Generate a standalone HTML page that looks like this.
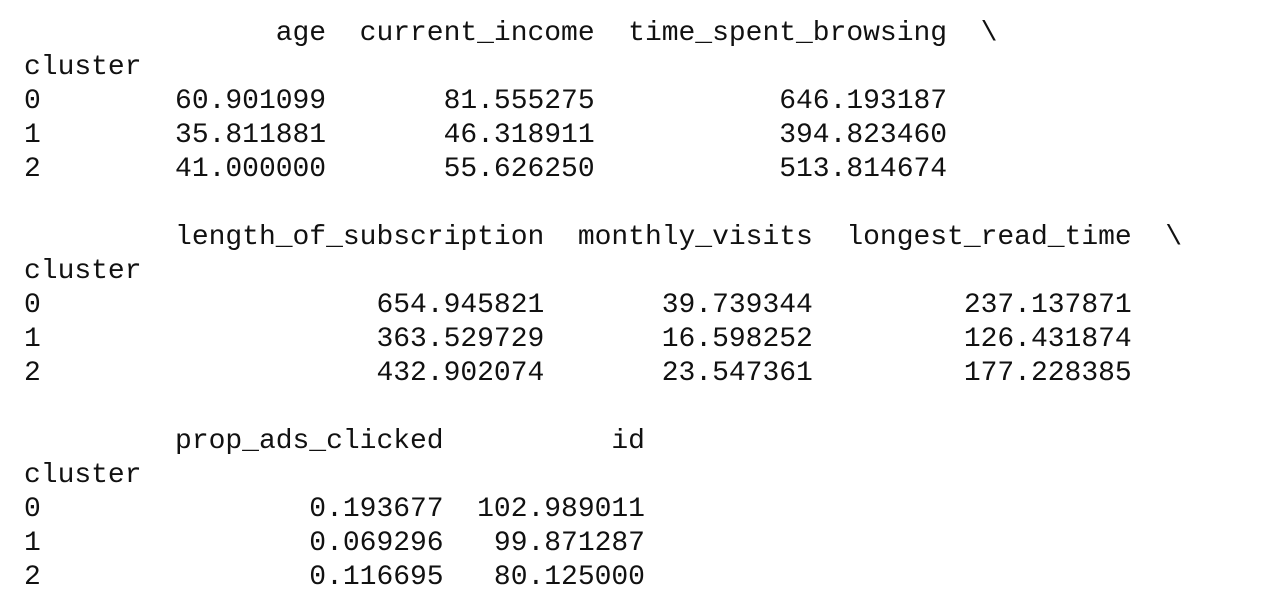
<!DOCTYPE html>
<html><head><meta charset="utf-8"><style>
html,body{margin:0;padding:0;background:#fff;width:1278px;height:596px;overflow:hidden}
pre{position:absolute;left:24px;top:17px;margin:0;font-family:"Liberation Mono","DejaVu Sans Mono",monospace;font-size:28px;line-height:34px;color:#111;letter-spacing:-0.02px}
</style></head><body>
<pre><span>               age  current_income  time_spent_browsing  \
cluster
0        60.901099       81.555275           646.193187
1        35.811881       46.318911           394.823460
2        41.000000       55.626250           513.814674</span>

<span>         length_of_subscription  monthly_visits  longest_read_time  \
cluster
0                    654.945821       39.739344         237.137871
1                    363.529729       16.598252         126.431874
2                    432.902074       23.547361         177.228385</span>

<span>         prop_ads_clicked          id
cluster
0                0.193677  102.989011
1                0.069296   99.871287
2                0.116695   80.125000</span></pre>
</body></html>
